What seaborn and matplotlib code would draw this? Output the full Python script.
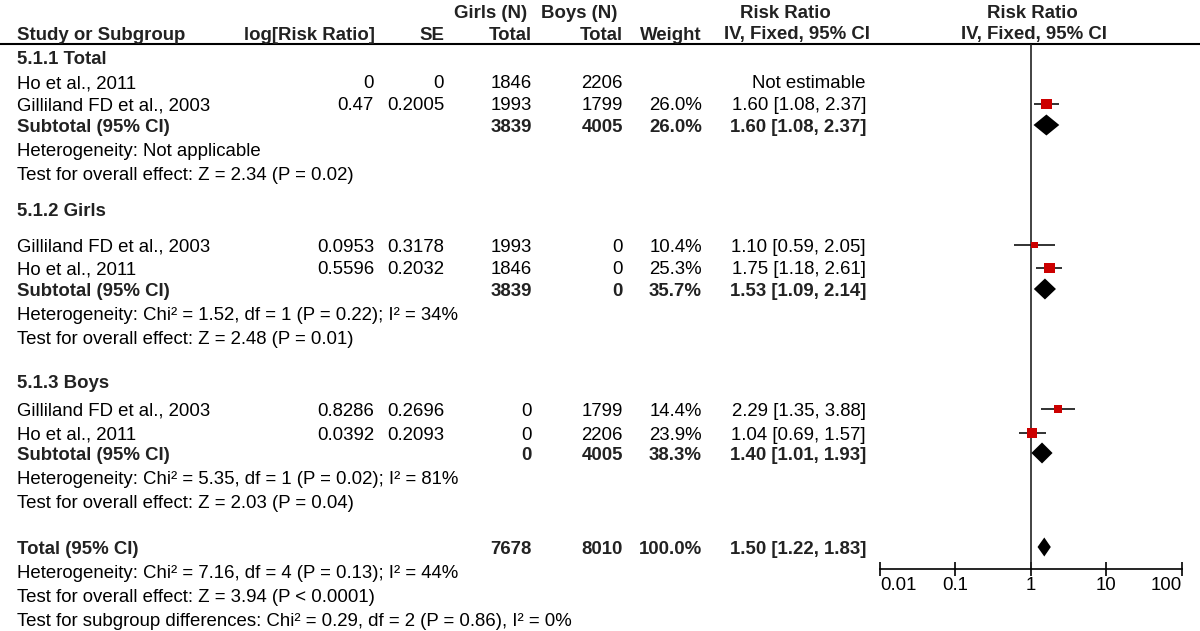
import numpy as np
import seaborn as sns
import matplotlib.pyplot as plt

# ---- data ----
group_titles = ["5.1.1 Total", "5.1.2 Girls", "5.1.3 Boys"]
study_names = ["Ho et al., 2011", "Gilliland FD et al., 2003",
               "Gilliland FD et al., 2003", "Ho et al., 2011",
               "Gilliland FD et al., 2003", "Ho et al., 2011"]
log_rr = [0, 0.47, 0.0953, 0.5596, 0.8286, 0.0392]
se = [0, 0.2005, 0.3178, 0.2032, 0.2696, 0.2093]
girls_n = [1846, 1993, 1993, 1846, 0, 0]
boys_n = [2206, 1799, 0, 0, 1799, 2206]
weight = [np.nan, 26.0, 10.4, 25.3, 14.4, 23.9]
rr = [np.nan, 1.60, 1.10, 1.75, 2.29, 1.04]
rr_lo = [np.nan, 1.08, 0.59, 1.18, 1.35, 0.69]
rr_hi = [np.nan, 2.37, 2.05, 2.61, 3.88, 1.57]

sub_girls = [3839, 3839, 0]
sub_boys = [4005, 0, 4005]
sub_weight = [26.0, 35.7, 38.3]
sub_rr = [1.60, 1.53, 1.40]
sub_lo = [1.08, 1.09, 1.01]
sub_hi = [2.37, 2.14, 1.93]
het_text = ["Heterogeneity: Not applicable",
            "Heterogeneity: Chi² = 1.52, df = 1 (P = 0.22); I² = 34%",
            "Heterogeneity: Chi² = 5.35, df = 1 (P = 0.02); I² = 81%"]
effect_text = ["Test for overall effect: Z = 2.34 (P = 0.02)",
               "Test for overall effect: Z = 2.48 (P = 0.01)",
               "Test for overall effect: Z = 2.03 (P = 0.04)"]

total_girls = 7678
total_boys = 8010
total_weight = 100.0
total_rr, total_lo, total_hi = 1.50, 1.22, 1.83
total_notes = ["Heterogeneity: Chi² = 7.16, df = 4 (P = 0.13); I² = 44%",
               "Test for overall effect: Z = 3.94 (P < 0.0001)",
               "Test for subgroup differences: Chi² = 0.29, df = 2 (P = 0.86), I² = 0%"]
axis_ticks = [0.01, 0.1, 1, 10, 100]
axis_labels = ["0.01", "0.1", "1", "10", "100"]

# ---- layout (pixel rows) ----
row_y = [82, 104, 245, 268, 409, 433]
title_y = [57, 210, 382]
sub_y = [125, 289, 453]
het_y = [150, 314, 478]
eff_y = [173, 337, 501]
total_y = 547
total_note_y = [572, 596, 620]

sns.set_theme(style="white")
plt.rcParams["font.family"] = ["Liberation Sans", "DejaVu Sans"]
FS = 13.4
BOLD = "#222222"

fig = plt.figure(figsize=(12, 6.31), dpi=100)
bg = fig.add_axes([0, 0, 1, 1])
bg.set_xlim(0, 1200)
bg.set_ylim(631, 0)
bg.axis("off")

def txt(x, y, s, ha="left", bold=False):
    bg.text(x, y + 6.5, s, ha=ha, va="baseline", fontsize=FS,
            fontweight="bold" if bold else "normal",
            color=BOLD if bold else "black")

# header
txt(527, 11, "Girls (N)", "right", True)
txt(617, 11, "Boys (N)", "right", True)
txt(785, 11, "Risk Ratio", "center", True)
txt(1032, 11, "Risk Ratio", "center", True)
txt(17, 33, "Study or Subgroup", bold=True)
txt(375, 33, "log[Risk Ratio]", "right", True)
txt(444, 33, "SE", "right", True)
txt(532, 33, "Total", "right", True)
txt(623, 33, "Total", "right", True)
txt(702, 33, "Weight", "right", True)
txt(797, 33, "IV, Fixed, 95% CI", "center", True)
txt(1034, 33, "IV, Fixed, 95% CI", "center", True)
bg.plot([0, 1200], [44, 44], color="black", lw=1.5)

# study rows
for i, name in enumerate(study_names):
    y = row_y[i]
    txt(17, y, name)
    txt(374, y, f"{log_rr[i]:g}", "right")
    txt(444, y, f"{se[i]:g}", "right")
    txt(532, y, str(girls_n[i]), "right")
    txt(623, y, str(boys_n[i]), "right")
    if np.isnan(rr[i]):
        txt(866, y, "Not estimable", "right")
    else:
        txt(702, y, f"{weight[i]:.1f}%", "right")
        txt(866, y, f"{rr[i]:.2f} [{rr_lo[i]:.2f}, {rr_hi[i]:.2f}]", "right")

for g in range(3):
    txt(17, title_y[g], group_titles[g], bold=True)
    txt(17, sub_y[g], "Subtotal (95% CI)", bold=True)
    txt(532, sub_y[g], str(sub_girls[g]), "right", True)
    txt(623, sub_y[g], str(sub_boys[g]), "right", True)
    txt(702, sub_y[g], f"{sub_weight[g]:.1f}%", "right", True)
    txt(866, sub_y[g], f"{sub_rr[g]:.2f} [{sub_lo[g]:.2f}, {sub_hi[g]:.2f}]", "right", True)
    txt(17, het_y[g], het_text[g])
    txt(17, eff_y[g], effect_text[g])

txt(17, total_y, "Total (95% CI)", bold=True)
txt(532, total_y, str(total_girls), "right", True)
txt(623, total_y, str(total_boys), "right", True)
txt(702, total_y, f"{total_weight:.1f}%", "right", True)
txt(866, total_y, f"{total_rr:.2f} [{total_lo:.2f}, {total_hi:.2f}]", "right", True)
for note, y in zip(total_notes, total_note_y):
    txt(17, y, note)

# ---- forest panel ----
x0, x1, y_top, y_axis = 880, 1182, 44, 569
fx = fig.add_axes([x0 / 1200, (631 - y_axis) / 631, (x1 - x0) / 1200, (y_axis - y_top) / 631])
fx.set_facecolor("none")
fx.set_xscale("log")
fx.set_xlim(0.01, 100)
fx.set_ylim(y_axis, y_top)
for side in ["left", "right", "top"]:
    fx.spines[side].set_visible(False)
fx.spines["bottom"].set_color("black")
fx.spines["bottom"].set_linewidth(1.2)
fx.axvline(1, color="#222222", lw=1.2, zorder=1)

ok = [i for i in range(len(rr)) if not np.isnan(rr[i])]
ys = [row_y[i] for i in ok]
fx.hlines(ys, [rr_lo[i] for i in ok], [rr_hi[i] for i in ok], color="#222222", lw=1.3, zorder=2)
sizes = [(2.1 * np.sqrt(weight[i]) * 0.72) ** 2 for i in ok]
sns.scatterplot(x=[rr[i] for i in ok], y=ys, s=sizes, marker="s", color="#cc0000",
                linewidth=0, ax=fx, zorder=3, legend=False)

def diamond(est, lo, hi, y, h=10.5):
    fx.fill([lo, est, hi, est], [y, y - h, y, y + h], color="black", lw=0, zorder=3)

for g in range(3):
    diamond(sub_rr[g], sub_lo[g], sub_hi[g], sub_y[g])
diamond(total_rr, total_lo, total_hi, total_y, h=9.5)

fx.set_yticks([])
fx.set_xticks(axis_ticks)
fx.set_xticklabels(axis_labels, fontsize=FS, color="black")
labels = fx.get_xticklabels()
labels[0].set_horizontalalignment("left")
labels[-1].set_horizontalalignment("right")
fx.minorticks_off()
fx.tick_params(axis="x", direction="inout", length=10, width=1.2, pad=1,
               bottom=True, color="black", labelcolor="black")
fx.set_xlabel("")
fx.set_ylabel("")

plt.savefig("out.png", dpi=100)
